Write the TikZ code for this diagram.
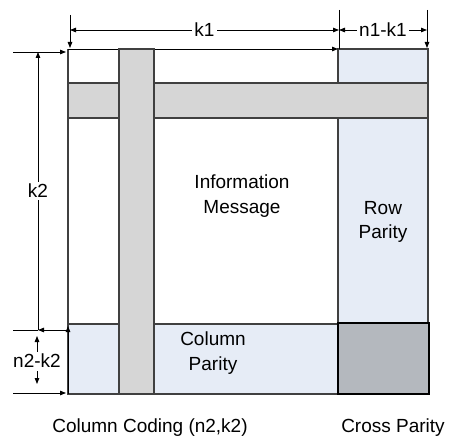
\documentclass[tikz,border=0pt]{standalone}
\usepackage{fontspec}
\setmainfont{Liberation Sans}
\usepackage{xcolor}
\usepackage{tikz}
\usetikzlibrary{arrows.meta, positioning}

\definecolor{parityblue}{RGB}{230,236,246}
\definecolor{bandgray}{RGB}{214,214,214}
\definecolor{crossgray}{RGB}{180,184,190}
\definecolor{edgegray}{RGB}{64,64,64}

\begin{document}
\begin{tikzpicture}[x=1pt, y=-1pt,
    box/.style={draw=edgegray, line width=1.3pt},
    band/.style={box, fill=bandgray},
    dim/.style={draw=black, line width=0.8pt},
    tip/.style={-{Triangle[length=6pt,width=4.5pt]}},
    tips/.style={{Triangle[length=6pt,width=4.5pt]}-{Triangle[length=6pt,width=4.5pt]}},
    lbl/.style={font=\fontsize{19}{24.5}\selectfont, align=center, inner sep=1pt},
    dimlbl/.style={lbl, fill=white, inner sep=2pt}]
    \useasboundingbox (0,0) rectangle (450,441);

    % Code block
    \fill[white] (68,49) rectangle (338,324);
    \filldraw[box, fill=parityblue] (338,49) rectangle (428,323);
    \filldraw[box, fill=parityblue] (68,324) rectangle (338,394);
    \filldraw[draw=black, line width=1.6pt, fill=crossgray] (338,323) rectangle (429,394);
    \draw[box] (68,49) -- (68,394);
    \draw[dim, tip] (68,49) -- (338,49);
    \draw[dim, tip] (68,394) -- (68,326);

    % Coding bands
    \filldraw[band] (68,83) rectangle (428,118);
    \filldraw[band] (119,49) rectangle (154,394);

    % Labels
    \node[lbl] (info) at (242,196) {Information\\Message};
    \node[lbl] (rowpar) at (383,222) {Row\\Parity};
    \node[lbl] (colpar) at (213,353) {Column\\Parity};
    \node[lbl] (colcode) at (150,428) {Column Coding (n2,k2)};
    \node[lbl] (crosspar) at (393,428) {Cross Parity};

    % Top dimensions
    \coordinate (t1) at (70,15);
    \coordinate (b1) at (70,48);
    \coordinate (t2) at (339,10);
    \coordinate (b2) at (339,49);
    \coordinate (t3) at (427,10);
    \coordinate (b3) at (427,48);
    \draw[dim, tip] (t1) -- (b1);
    \draw[dim] (t2) -- (b2);
    \draw[dim, tip] (t3) -- (b3);
    \coordinate (k1l) at (70,30);
    \coordinate (k1r) at (339,30);
    \coordinate (n1r) at (427,30);
    \draw[dim, tips] (k1l) -- (k1r) node[dimlbl, midway] (k1) {k1};
    \draw[dim, tips] (k1r) -- (n1r) node[dimlbl, midway] (n1k1) {n1-k1};

    % Left dimensions
    \coordinate (e1l) at (13,52);
    \coordinate (e1r) at (66,52);
    \coordinate (e2l) at (13,330);
    \coordinate (e2m) at (38,330);
    \coordinate (e2r) at (68,330);
    \coordinate (e3l) at (13,393);
    \coordinate (e3r) at (66,393);
    \draw[dim, tip] (e1l) -- (e1r);
    \draw[dim, tip] (e2r) -- (e2m);
    \draw[dim] (e2m) -- (e2l);
    \draw[dim, tip] (e3l) -- (e3r);
    \coordinate (k2t) at (38,52);
    \draw[dim, tip] (e2m) -- (k2t) node[dimlbl, midway] (k2) {k2};
    \node[lbl] (n2k2) at (37,361) {n2-k2};
    \coordinate (n2up) at (37,336);
    \coordinate (n2dn) at (37,384);
    \draw[dim, tip] (n2k2.north) ++(0,-1) -- (n2up);
    \draw[dim, tip] (n2k2.south) ++(0,2) -- (n2dn);
\end{tikzpicture}
\end{document}
